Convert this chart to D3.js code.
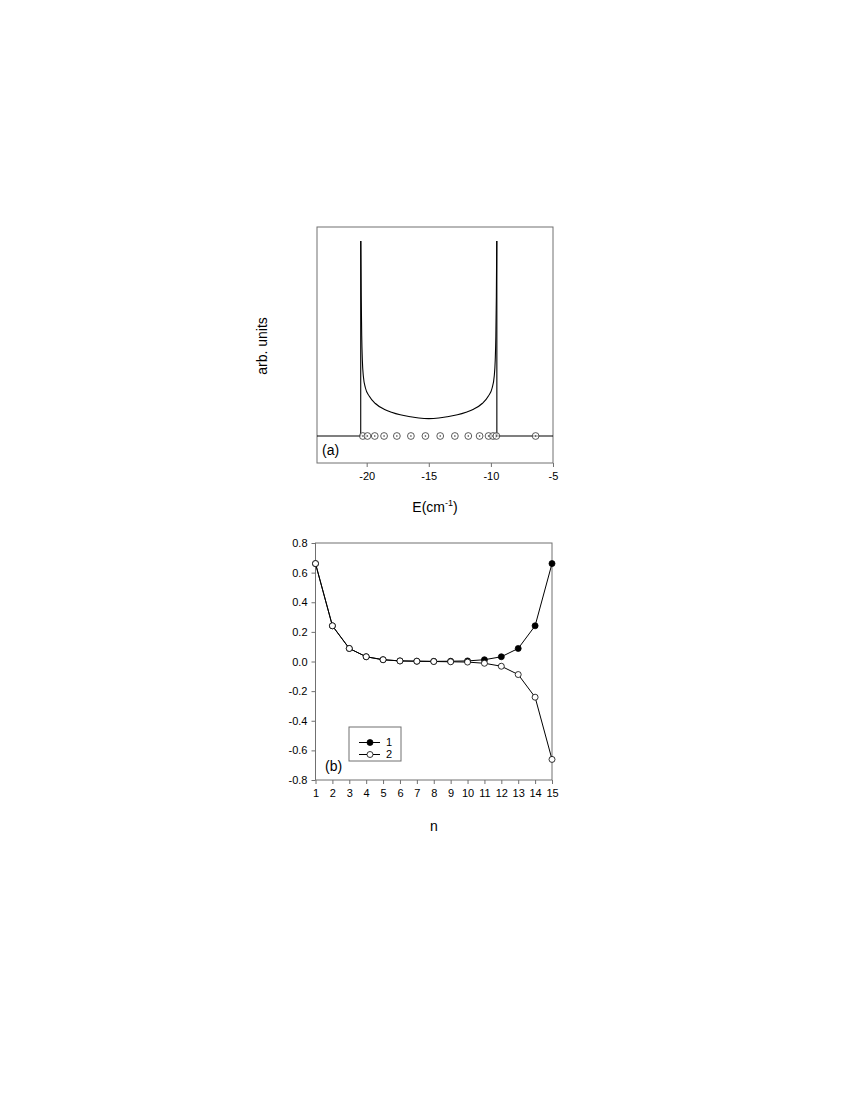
<!DOCTYPE html>
<html>
<head>
<meta charset="utf-8">
<script src="https://cdn.jsdelivr.net/npm/d3@7"></script>
<style>
  html, body { margin: 0; padding: 0; background: #fff; }
  svg { display: block; font-family: "Liberation Sans", Arial, sans-serif; }
</style>
</head>
<body>
<svg id="chart" width="850" height="1100"></svg>
<script>
// ---------- Panel (a) data ----------
// band edges and spike height
const bandEdges = [-20.48, -9.52];
const spikeHeight = 1.95;
const xRangeA = [-24, -5];
// density-of-states curve inside the band: [E (cm^-1), height (arb.)]
const dosCurve = [
  [-20.47, 1.95], [-20.44, 1.40], [-20.40, 1.00], [-20.35, 0.76], [-20.27, 0.60],
  [-20.1, 0.48], [-19.8, 0.40], [-19.3, 0.325], [-18.6, 0.268], [-18.0, 0.238],
  [-17.3, 0.212], [-16.5, 0.193], [-15.8, 0.180], [-15.0, 0.174], [-14.2, 0.180],
  [-13.5, 0.193], [-12.7, 0.212], [-12.0, 0.238], [-11.4, 0.268], [-10.7, 0.325],
  [-10.2, 0.40], [-9.9, 0.48], [-9.73, 0.60], [-9.65, 0.76], [-9.60, 1.00],
  [-9.56, 1.40], [-9.53, 1.95]
];
// eigenvalue markers on the baseline
const eigenE = [-20.31, -19.94, -19.35, -18.60, -17.57, -16.44, -15.27, -14.08,
                -12.90, -11.82, -10.91, -10.19, -9.83, -9.56, -6.40];
const topXTicks = [-20, -15, -10, -5];

// ---------- Panel (b) data ----------
const sites = [1,2,3,4,5,6,7,8,9,10,11,12,13,14,15];
const state1 = [0.661,0.241,0.088,0.032,0.012,0.004,0.002,0.001,0.002,0.004,0.012,0.032,0.088,0.241,0.661];
const state2 = [0.661,0.241,0.088,0.032,0.012,0.004,0.002,0.000,-0.002,-0.004,-0.012,-0.032,-0.088,-0.241,-0.661];
const botYTicks = [0.8,0.6,0.4,0.2,0.0,-0.2,-0.4,-0.6,-0.8];
const botXTicks = sites;
const legendLabels = ["1", "2"];

const svg = d3.select("#chart");
const frameColor = "#707070";
const FONT = 11;

// ================= Panel (a) =================
const A = { left: 317, right: 553, top: 227, bottom: 463 };
const xA = d3.scaleLinear().domain(xRangeA).range([A.left, A.right]);
const yA = d3.scaleLinear().domain([-0.27, 2.09]).range([A.bottom, A.top]);
const gA = svg.append("g");

gA.append("rect")
  .attr("x", A.left).attr("y", A.top)
  .attr("width", A.right - A.left).attr("height", A.bottom - A.top)
  .attr("fill", "none").attr("stroke", frameColor).attr("stroke-width", 1);

const axA = gA.append("g")
  .attr("transform", `translate(0,${A.bottom})`)
  .call(d3.axisBottom(xA).tickValues(topXTicks).tickSize(4).tickSizeOuter(0).tickPadding(5)
        .tickFormat(d3.format("d")));
axA.select(".domain").remove();
axA.selectAll("line").attr("stroke", frameColor);
axA.selectAll("text").attr("font-size", FONT).attr("fill", "#000")
  .text(d => d < 0 ? "-" + Math.abs(d) : d);

// baseline + band-edge spikes
const outline = [
  [xRangeA[0], 0], [bandEdges[0], 0], [bandEdges[0], spikeHeight],
];
const outlineR = [
  [bandEdges[1], spikeHeight], [bandEdges[1], 0], [xRangeA[1], 0]
];
const lin = d3.line().x(d => xA(d[0])).y(d => yA(d[1]));
gA.append("path").datum(outline).attr("fill", "none").attr("stroke", "#000")
  .attr("stroke-width", 1.1).attr("d", lin);
gA.append("path").datum(outlineR).attr("fill", "none").attr("stroke", "#000")
  .attr("stroke-width", 1.1).attr("d", lin);

gA.append("path")
  .datum(dosCurve)
  .attr("fill", "none").attr("stroke", "#000").attr("stroke-width", 1.1)
  .attr("d", d3.line().curve(d3.curveMonotoneX).x(d => xA(d[0])).y(d => yA(d[1])));

const mk = gA.append("g").selectAll("g").data(eigenE).join("g")
  .attr("transform", d => `translate(${xA(d)},${yA(0)})`);
mk.append("circle").attr("r", 3.4).attr("fill", "#fff").attr("fill-opacity", 0.6)
  .attr("stroke", "#333").attr("stroke-width", 0.8);
mk.append("circle").attr("r", 0.8).attr("fill", "#333");

gA.append("text").attr("x", 322).attr("y", 455)
  .attr("font-size", 14).attr("fill", "#000").text("(a)");

const xt = gA.append("text").attr("x", 435).attr("y", 512)
  .attr("text-anchor", "middle").attr("font-size", 14).attr("fill", "#000");
xt.append("tspan").text("E(cm");
xt.append("tspan").attr("dy", -6).attr("font-size", 9).text("-1");
xt.append("tspan").attr("dy", 6).text(")");

gA.append("text")
  .attr("transform", `translate(267,346) rotate(-90)`)
  .attr("text-anchor", "middle").attr("font-size", 14).attr("fill", "#000")
  .text("arb. units");

// ================= Panel (b) =================
const B = { left: 315.5, right: 552, top: 543, bottom: 780 };
const xB = d3.scaleLinear().domain([1, 15]).range([B.left, B.right]);
const yB = d3.scaleLinear().domain([-0.8, 0.8]).range([B.bottom, B.top]);
const gB = svg.append("g");

gB.append("rect")
  .attr("x", B.left).attr("y", B.top)
  .attr("width", B.right - B.left).attr("height", B.bottom - B.top)
  .attr("fill", "none").attr("stroke", frameColor).attr("stroke-width", 1);

const axBx = gB.append("g")
  .attr("transform", `translate(0,${B.bottom})`)
  .call(d3.axisBottom(xB).tickValues(botXTicks).tickSize(4).tickSizeOuter(0).tickPadding(5)
        .tickFormat(d3.format("d")));
axBx.select(".domain").remove();
axBx.selectAll("line").attr("stroke", frameColor);
axBx.selectAll("text").attr("font-size", FONT).attr("fill", "#000");

const axBy = gB.append("g")
  .attr("transform", `translate(${B.left},0)`)
  .call(d3.axisLeft(yB).tickValues(botYTicks).tickSize(4).tickSizeOuter(0).tickPadding(4)
        .tickFormat(d => d3.format(".1f")(d).replace("−", "-")));
axBy.select(".domain").remove();
axBy.selectAll("line").attr("stroke", frameColor);
axBy.selectAll("text").attr("font-size", FONT).attr("fill", "#000");

const lineB = d3.line().x((d, i) => xB(sites[i])).y(d => yB(d));

// state 1 (filled)
gB.append("path").datum(state1).attr("fill", "none").attr("stroke", "#000")
  .attr("stroke-width", 1).attr("d", lineB);
gB.append("g").selectAll("circle").data(state1).join("circle")
  .attr("cx", (d, i) => xB(sites[i])).attr("cy", d => yB(d)).attr("r", 3)
  .attr("fill", "#000").attr("stroke", "#000").attr("stroke-width", 0.8);

// state 2 (open)
gB.append("path").datum(state2).attr("fill", "none").attr("stroke", "#000")
  .attr("stroke-width", 1).attr("d", lineB);
gB.append("g").selectAll("circle").data(state2).join("circle")
  .attr("cx", (d, i) => xB(sites[i])).attr("cy", d => yB(d)).attr("r", 3)
  .attr("fill", "#fff").attr("stroke", "#000").attr("stroke-width", 0.8);

// legend
const lg = gB.append("g");
lg.append("rect").attr("x", 349).attr("y", 727).attr("width", 52).attr("height", 34)
  .attr("fill", "#fff").attr("stroke", frameColor).attr("stroke-width", 1);
const lgItems = lg.selectAll("g.item").data(legendLabels).join("g")
  .attr("class", "item")
  .attr("transform", (d, i) => `translate(0,${742.5 + i * 12})`);
lgItems.append("line").attr("x1", 359).attr("x2", 380).attr("stroke", "#000").attr("stroke-width", 1);
lgItems.append("circle").attr("cx", 370).attr("r", 3)
  .attr("fill", (d, i) => i === 0 ? "#000" : "#fff").attr("stroke", "#000").attr("stroke-width", 0.8);
lgItems.append("text").attr("x", 386).attr("dy", "0.35em").attr("font-size", FONT)
  .attr("fill", "#000").text(d => d);

gB.append("text").attr("x", 325).attr("y", 771)
  .attr("font-size", 14).attr("fill", "#000").text("(b)");

gB.append("text").attr("x", 434).attr("y", 831)
  .attr("text-anchor", "middle").attr("font-size", 14).attr("fill", "#000").text("n");
</script>
</body>
</html>
